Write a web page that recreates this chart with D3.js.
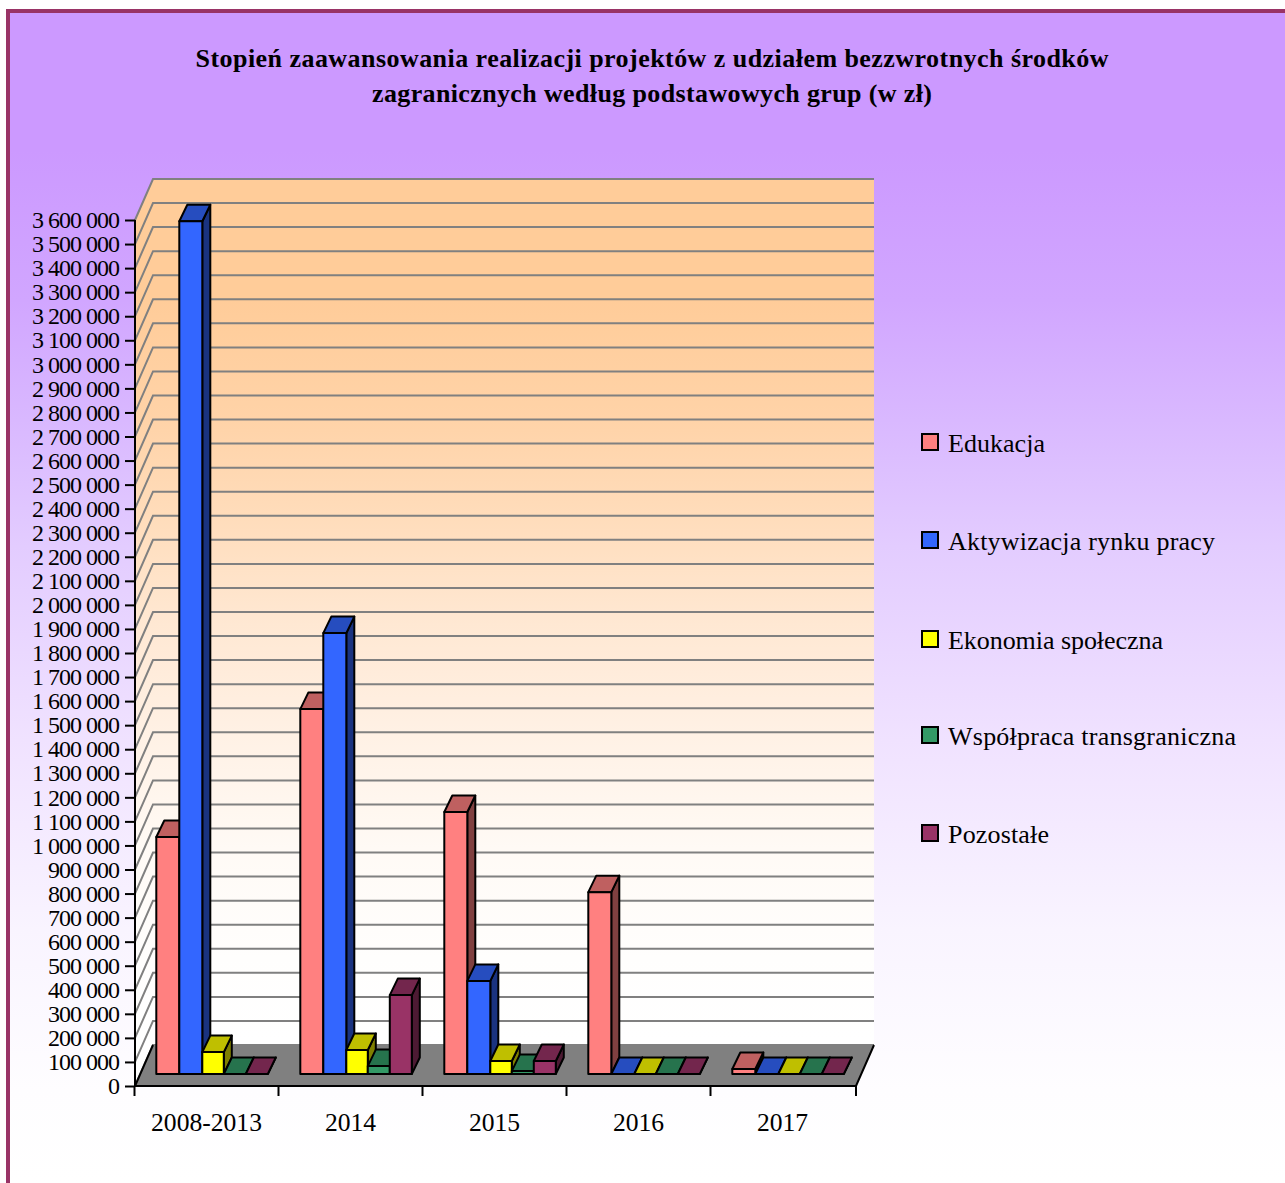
<!DOCTYPE html>
<html><head><meta charset="utf-8">
<script src="https://cdn.jsdelivr.net/npm/d3@7"></script>
<style>html,body{margin:0;padding:0;background:#fff;overflow:hidden}svg{display:block}text{font-family:"Liberation Serif",serif;fill:#000}</style>
</head><body><svg id="c" width="1285" height="1183"></svg>
<script>
const categories=["2008-2013","2014","2015","2016","2017"];
const seriesNames=["Edukacja","Aktywizacja rynku pracy","Ekonomia społeczna","Współpraca transgraniczna","Pozostałe"];
const edukacja=[985000,1517000,1089000,756000,21000];
const aktywizacja=[3545000,1833000,387000,0,0];
const ekonomia=[91000,100000,54000,0,0];
const wspolpraca=[0,33000,12000,0,0];
const pozostale=[0,328000,54000,0,0];
const seriesValues=[edukacja,aktywizacja,ekonomia,wspolpraca,pozostale];
const frontColors=["#ff8080","#3366ff","#ffff00","#339966","#993366"];
const titleLines=["Stopień zaawansowania realizacji projektów z udziałem bezzwrotnych środków","zagranicznych według podstawowych grup (w zł)"];
const titleWidths=[913,560];
const legendWidths=[97,267,215,288,101];
const tickStep=100000,tickMax=3600000;

const svg=d3.select("#c");
const defs=svg.append("defs");
const gradient=(id,stops)=>{const g=defs.append("linearGradient").attr("id",id).attr("gradientUnits","userSpaceOnUse").attr("x1",0).attr("x2",0).attr("y1",0).attr("y2",1183);
 stops.forEach(s=>g.append("stop").attr("offset",s[0]/1183).attr("stop-color",s[1]));};
gradient("bg",[[150,"#cc99ff"],[300,"#d1a6ff"],[420,"#d9b8ff"],[547,"#e3ccff"],[740,"#f0e2ff"],[930,"#f9f4ff"],[1090,"#fefdff"],[1183,"#ffffff"]]);
gradient("wall",[[300,"#ffcc99"],[420,"#ffd3a8"],[513,"#ffdcba"],[624,"#ffe8d3"],[735,"#fff1e5"],[847,"#fffaf5"],[958,"#fffefd"],[1040,"#ffffff"]]);

svg.append("rect").attr("x",8).attr("y",11).attr("width",1290).attr("height",1190).attr("fill","url(#bg)").attr("stroke","#993366").attr("stroke-width",4);

const y=d3.scaleLinear().domain([0,tickMax]).range([1086,220]);
const x=d3.scaleBand().domain(categories).range([134.5,854.5]);
const barEdge=d3.scaleOrdinal().domain(d3.range(6)).range([21.8,44.8,67.8,89.3,111.3,133.3]);
const dDx=18,dDy=-41,bDx=8,bDy=-16.5,baseUp=12,xEnd=856;
const shade=(c,k)=>{const r=d3.rgb(c);return d3.rgb(r.r*k,r.g*k,r.b*k).formatHex();};
const poly=p=>p.map(a=>a.join(",")).join(" ");
const yTop=y(tickMax),bot=y(0);

// walls
svg.append("polygon").attr("fill","url(#wall)").attr("points",poly([[135,yTop],[135+dDx,yTop+dDy],[xEnd+dDx,yTop+dDy],[xEnd+dDx,bot+dDy],[135+dDx,bot+dDy],[135,bot]]));
// gridlines
const ticks=d3.range(0,tickMax+1,tickStep);
svg.append("g").selectAll("polyline").data(ticks).join("polyline")
 .attr("fill","none").attr("stroke","#808080").attr("stroke-width",2)
 .attr("points",d=>poly([[135,y(d)],[135+dDx,y(d)+dDy],[xEnd+dDx,y(d)+dDy]]));
// floor
svg.append("polygon").attr("fill","#808080").attr("points",poly([[135,bot],[135+dDx,bot+dDy],[xEnd+dDx,bot+dDy],[xEnd,bot]]));
svg.append("polyline").attr("fill","none").attr("stroke","#000").attr("stroke-width",2).attr("points",poly([[135+dDx,bot+dDy],[135,bot],[xEnd,bot],[xEnd+dDx,bot+dDy]]));

// bars
const gBars=svg.append("g").attr("stroke","#000").attr("stroke-width",2).attr("stroke-linejoin","round");
categories.forEach((cat,ci)=>{
 seriesValues.forEach((vals,si)=>{
  const v=vals[ci],c=frontColors[si];
  const x0=x(cat)+barEdge(si),x1=x(cat)+barEdge(si+1);
  const yb=y(0)-baseUp,yt=y(v)-baseUp;
  const g=gBars.append("g");
  g.append("polygon").attr("fill",shade(c,.5)).attr("points",poly([[x1,yt],[x1+bDx,yt+bDy],[x1+bDx,yb+bDy],[x1,yb]]));
  g.append("polygon").attr("fill",shade(c,.75)).attr("points",poly([[x0,yt],[x0+bDx,yt+bDy],[x1+bDx,yt+bDy],[x1,yt]]));
  if(v>0) g.append("rect").attr("fill",c).attr("x",x0).attr("y",yt).attr("width",x1-x0).attr("height",yb-yt);
 });
});

// axes
const fmt=d3.formatLocale({decimal:",",thousands:" ",grouping:[3],currency:["",""]}).format(",");
const yAxis=d3.axisLeft(y).tickValues(ticks).tickFormat(fmt).tickSize(10).tickPadding(6);
const gy=svg.append("g").attr("transform","translate(135,0)").call(yAxis);
gy.select(".domain").attr("stroke","#000").attr("stroke-width",2).attr("d",`M0,${yTop}V${bot}`);
gy.selectAll(".tick line").attr("stroke","#000").attr("stroke-width",2);
gy.selectAll("text").attr("font-size",24).attr("letter-spacing",-1).attr("font-family","Liberation Serif");
const xTicks=categories.map(c=>x(c)).concat([xEnd]);
svg.append("g").selectAll("line").data(xTicks).join("line").attr("x1",d=>d).attr("x2",d=>d).attr("y1",bot).attr("y2",bot+10).attr("stroke","#000").attr("stroke-width",2);
svg.append("g").selectAll("text").data(categories).join("text").attr("x",d=>x(d)+x.bandwidth()/2).attr("y",1131).attr("text-anchor","middle").attr("font-size",25.6).text(d=>d);

// title
svg.append("g").selectAll("text").data(titleLines).join("text").attr("x",652).attr("y",(d,i)=>67+i*35).attr("text-anchor","middle").attr("font-weight","bold").attr("font-size",26).attr("textLength",(d,i)=>titleWidths[i]).attr("lengthAdjust","spacing").text(d=>d);

// legend
const legendY=[443,541,640,736,834];
const lg=svg.append("g").selectAll("g").data(seriesNames).join("g").attr("transform",(d,i)=>`translate(922,${legendY[i]})`);
lg.append("rect").attr("x",0).attr("y",-9).attr("width",16).attr("height",16).attr("fill",(d,i)=>frontColors[i]).attr("stroke","#000").attr("stroke-width",2);
lg.append("text").attr("x",26).attr("y",9).attr("font-size",26).attr("textLength",(d,i)=>legendWidths[i]).attr("lengthAdjust","spacing").text(d=>d);
</script></body></html>
